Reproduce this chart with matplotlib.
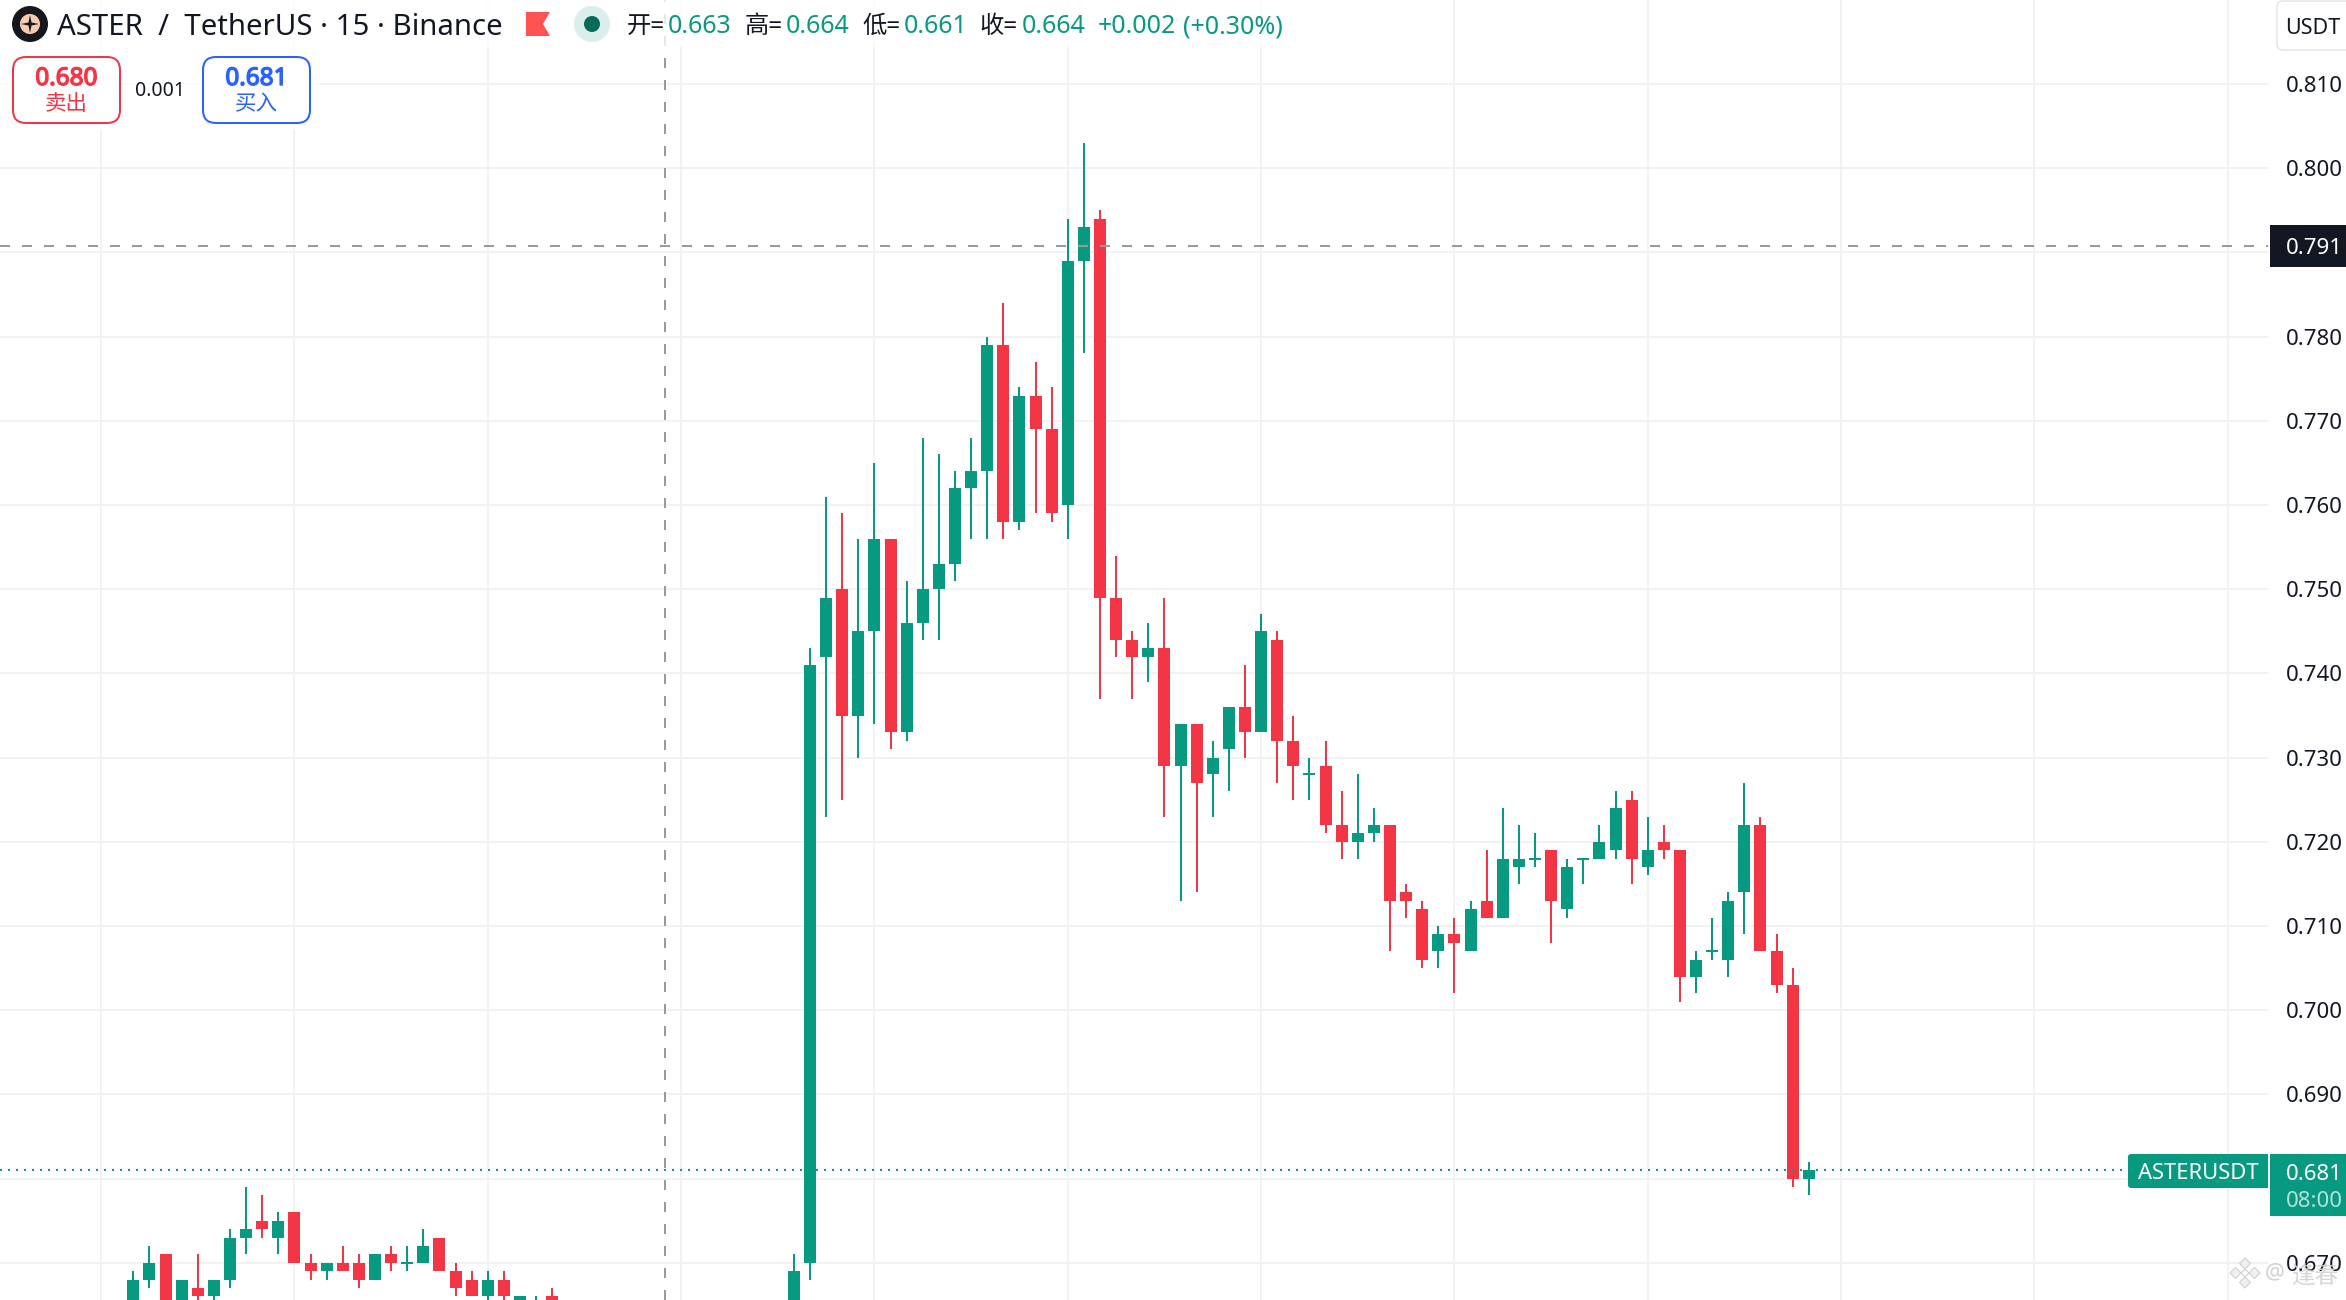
import numpy as np
import matplotlib
matplotlib.use("Agg")
import matplotlib.pyplot as plt
import matplotlib.patheffects as pe
from matplotlib.patches import Rectangle, FancyBboxPatch, Circle, Polygon

# ---------- data (ASTERUSDT 15m), one entry per bar; nan = bar below the visible range ----------
first_bar = -42
nan = float("nan")
opens = [.664,.668,.671,.664,.667,.666,.668,.673,.675,.673,.676,.670,.669,.670,.670,.668,.671,.670,.670,.673,
         .669,.668,.666,.668,.664,.663,.666,
         nan,nan,nan,nan,nan,nan,nan,nan,nan,nan,nan,nan,nan,nan,
         .660,.670,
         .742,.750,.735,.745,.756,.733,.746,.750,.753,.762,.764,.779,.758,.773,.769,.760,.789,.794,.749,.744,.742,.743,
         .729,.734,.728,.731,.736,.733,.744,.732,.728,.729,.722,.720,.721,.722,.714,.712,.707,.709,.707,.713,
         .711,.717,.718,.719,.712,.718,.718,.719,.725,.717,.720,.719,.704,.707,.706,.714,.722,.707,.703,.680]
highs = [.669,.672,.671,.668,.671,.668,.674,.679,.678,.676,.676,.671,.670,.672,.671,.671,.672,.672,.674,.673,
         .670,.669,.669,.669,.666,.666,.667,
         nan,nan,nan,nan,nan,nan,nan,nan,nan,nan,nan,nan,nan,nan,
         .671,.743,
         .761,.759,.756,.765,.756,.751,.768,.766,.764,.768,.780,.784,.774,.777,.774,.794,.803,.795,.754,.745,.746,.749,
         .734,.734,.732,.736,.741,.747,.745,.735,.730,.732,.726,.728,.724,.722,.715,.713,.710,.711,.713,.719,
         .724,.722,.721,.719,.718,.718,.722,.726,.726,.723,.722,.719,.707,.711,.714,.727,.723,.709,.705,.682]
lows = [.663,.667,.663,.663,.665,.665,.667,.671,.673,.671,.670,.668,.668,.669,.667,.668,.669,.669,.670,.669,
        .666,.666,.665,.665,.663,.662,.663,
        nan,nan,nan,nan,nan,nan,nan,nan,nan,nan,nan,nan,nan,nan,
        .659,.668,
        .723,.725,.730,.734,.731,.732,.744,.744,.751,.756,.756,.756,.757,.759,.758,.756,.778,.737,.742,.737,.739,.723,
        .713,.714,.723,.726,.730,.733,.727,.725,.725,.721,.718,.718,.720,.707,.711,.705,.705,.702,.707,.711,
        .711,.715,.717,.708,.711,.715,.718,.718,.715,.716,.718,.701,.702,.706,.704,.709,.707,.702,.679,.678]
closes = [.668,.670,.664,.668,.666,.668,.673,.674,.674,.675,.670,.669,.670,.669,.668,.671,.670,.670,.672,.669,
          .667,.666,.668,.666,.666,.664,.664,
          nan,nan,nan,nan,nan,nan,nan,nan,nan,nan,nan,nan,nan,nan,
          .669,.741,
          .749,.735,.745,.756,.733,.746,.750,.753,.762,.764,.779,.758,.773,.769,.759,.789,.793,.749,.744,.742,.743,.729,
          .734,.727,.730,.736,.733,.745,.732,.729,.728,.722,.720,.721,.722,.713,.713,.706,.709,.708,.712,.711,
          .718,.718,.718,.713,.717,.718,.720,.724,.718,.719,.719,.704,.706,.707,.713,.722,.707,.703,.680,.681]
price_ticks = [.670,.680,.690,.700,.710,.720,.730,.740,.750,.760,.770,.780,.790,.800,.810]
# labels of 0.680 and 0.790 sit behind the last-price and cursor boxes in the reference
price_labels = ["0.670","","0.690","0.700","0.710","0.720","0.730","0.740","0.750","0.760","0.770","0.780","","0.800","0.810"]
time_grid = [-44,-32,-20,-8,4,16,28,40,52,64,76,88]
last_price = 0.681
cursor_price = 0.7908
cursor_bar = -9

UP, DOWN = "#089981", "#F23645"
GRID = "#f2f2f3"
W, H = 2346, 1300
PANE_R = 2268
X0, DX = 810.0, 16.11          # pixel of bar 0, pixels per bar
Y800, DY = 168.2, 8420.0       # pixel of 0.800, pixels per unit price

plt.rcParams["lines.scale_dashes"] = False
FAM = ["Noto Sans", "Noto Sans CJK SC"]
px = 0.72  # points per pixel at dpi=100

fig = plt.figure(figsize=(W / 100, H / 100), dpi=100, facecolor="white")
ax = fig.add_axes([0, 0, PANE_R / W, 1])
ax.set_xlim((0 - X0) / DX, (PANE_R - X0) / DX)
ax.set_ylim(0.8 - (H - Y800) / DY, 0.8 + Y800 / DY)
for s in ax.spines.values():
    s.set_visible(False)
ax.set_axisbelow(True)
ax.set_xticks(time_grid)
ax.set_xticklabels([])
ax.tick_params(axis="x", length=0)
ax.yaxis.tick_right()
ax.set_yticks(price_ticks)
ax.set_yticklabels(price_labels, fontsize=16, family=FAM, color="#131722")
ax.tick_params(axis="y", length=0, pad=18 * px)
ax.grid(True, color=GRID, lw=2 * px)

idx = np.arange(first_bar, first_bar + len(opens))
o, h_, l, c = map(np.array, (opens, highs, lows, closes))
mask = ~np.isnan(o)
col = np.where(c >= o, UP, DOWN)
ax.vlines(idx[mask], l[mask], h_[mask], colors=col[mask], lw=2 * px, zorder=3)
ax.bar(idx[mask], np.abs(c - o)[mask], bottom=np.minimum(o, c)[mask], width=12 / DX,
       color=col[mask], linewidth=0, zorder=4)
doji = mask & (o == c)
ax.hlines(o[doji], idx[doji] - 6 / DX, idx[doji] + 6 / DX, colors=col[doji], lw=2 * px, zorder=4)

# crosshair and last price line
dash = (0, (10 * px, 12 * px))
ax.axhline(cursor_price, color="#9a9a9a", lw=2 * px, ls=dash, zorder=5)
ax.axvline(cursor_bar, color="#9a9a9a", lw=2 * px, ls=dash, zorder=2)
ax.plot([ax.get_xlim()[0], (2128 - X0) / DX], [last_price] * 2, color=UP, lw=2 * px,
        ls=(0, (2 * px, 6 * px)), zorder=5)

# ---------- chrome, in pixel coordinates ----------
ov = fig.add_axes([0, 0, 1, 1])
ov.set_xlim(0, W)
ov.set_ylim(H, 0)
ov.axis("off")
ov.patch.set_visible(False)

def rect(x0, y0, x1, y1, **k):
    ov.add_patch(Rectangle((x0, y0), x1 - x0, y1 - y0, linewidth=0, **k))

def txt(x, y, s, size, color="#131722", ha="left", va="baseline", **k):
    return ov.text(x, y, s, fontsize=size, color=color, ha=ha, va=va, family=FAM, **k)

# translucent legend background
rect(0, 0, 1290, 47, color="white", alpha=0.78)
rect(0, 47, 320, 130, color="white", alpha=0.78)

# symbol logo
ov.add_patch(Circle((30, 24), 18, color="#15171c", lw=0))
ov.add_patch(Circle((30, 24), 10, color="#f4cdb0", lw=0))
ov.add_patch(Polygon([(30, 15), (31.5, 22.5), (39, 24), (31.5, 25.5), (30, 33), (28.5, 25.5), (21, 24), (28.5, 22.5)],
                     closed=True, color="#15171c", lw=0))
txt(57, 35, "ASTER  /  TetherUS · 15 · Binance", 21.2)
ov.add_patch(Polygon([(526, 12), (550, 12), (543, 24), (550, 36), (526, 36)], closed=True, color="#FF5252", lw=0))
ov.add_patch(Circle((592, 24), 18, color="#dbeeeb", lw=0))
ov.add_patch(Circle((592, 24), 8, color="#056b58", lw=0))

for x, s, colr, sz in [(627, "开=", "#131722", 17.5), (668, "0.663", UP, 18),
                       (745, "高=", "#131722", 17.5), (786, "0.664", UP, 18),
                       (862, "低=", "#131722", 17.5), (904, "0.661", UP, 18),
                       (980, "收=", "#131722", 17.5), (1022, "0.664", UP, 18),
                       (1098, "+0.002", UP, 18), (1183, "(+0.30%)", UP, 18)]:
    txt(x, 33, s, sz, colr)

# sell / buy buttons
for x0, x1, colr, price, lab in [(13, 120, "#F23645", "0.680", "卖出"), (203, 310, "#2962FF", "0.681", "买入")]:
    ov.add_patch(FancyBboxPatch((x0, 57), x1 - x0, 66, boxstyle="round,pad=0,rounding_size=13",
                                facecolor="white", edgecolor=colr, lw=2 * px))
    t = txt((x0 + x1) / 2, 85, price, 17.5, colr, ha="center")
    t.set_path_effects([pe.withStroke(linewidth=1.0, foreground=colr)])
    txt((x0 + x1) / 2, 105, lab, 15.5, colr, ha="center", va="center")
txt(160.5, 91, "0.001", 14, ha="center", va="center")

# currency box
ov.add_patch(FancyBboxPatch((2277, 1), 90, 49, boxstyle="round,pad=0,rounding_size=6",
                            facecolor="white", edgecolor="#e6e6e6", lw=1.5 * px))
txt(2285, 34, "USDT", 15.5)

# cursor price
rect(2270, 225, W, 267, color="#131722")
txt(2286, 254, "0.791", 16, "white")

# last price labels
ov.add_patch(FancyBboxPatch((2128, 1154), 140, 34, boxstyle="round,pad=0,rounding_size=3", facecolor=UP, lw=0))
rect(2150, 1154, 2268, 1188, color=UP)
txt(2138, 1179, "ASTERUSDT", 15.8, "white")
rect(2270, 1154, W, 1216, color=UP)
txt(2286, 1180, "0.681", 16, "white")
txt(2286, 1207, "08:00", 16, "#b5e0d9")

# watermark
wm = "#d2d2d2"
cx, cy = 2245, 1273
for dx_, dy_ in [(0, -9.5), (9.5, 0), (0, 9.5), (-9.5, 0)]:
    ov.add_patch(Polygon([(cx + dx_ - 5.5, cy + dy_), (cx + dx_, cy + dy_ - 5.5),
                          (cx + dx_ + 5.5, cy + dy_), (cx + dx_, cy + dy_ + 5.5)],
                         closed=True, facecolor="#f0f0f0", edgecolor=wm, lw=1.2 * px, zorder=6))
ov.add_patch(Polygon([(cx - 4, cy), (cx, cy - 4), (cx + 4, cy), (cx, cy + 4)], closed=True,
                     facecolor="white", edgecolor=wm, lw=1.2 * px, zorder=6))
txt(2275, 1273, "@", 16, wm, ha="center", va="center", zorder=6)
txt(2316, 1278, "逢春", 17, wm, ha="center", va="center", zorder=6, alpha=0.9)

fig.savefig("out.png", dpi=100, facecolor="white")
